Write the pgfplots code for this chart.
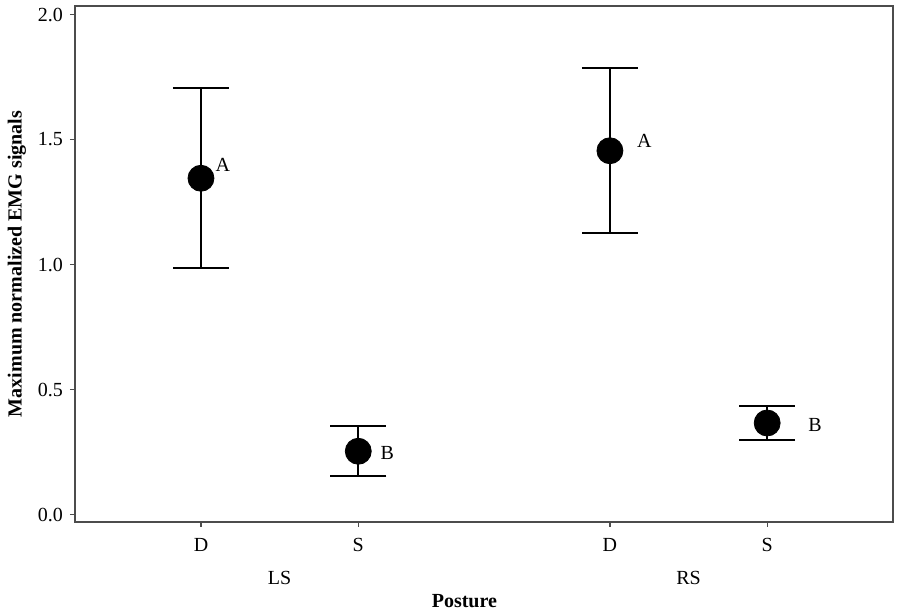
\documentclass[border=0pt]{standalone}
\usepackage{fontspec}
\setmainfont{Liberation Serif}
\usepackage{pgfplots}
\pgfplotsset{compat=1.18}
\begin{document}
\begin{tikzpicture}
\begin{axis}[
  scale only axis=true,
  width=409pt, height=258pt,
  xmin=0.199, xmax=5.40,
  ymin=-0.03, ymax=2.034,
  axis line style={black!70, line width=0.8pt},
  xtick={1,2,3.6,4.6},
  xticklabels={D,S,D,S},
  ytick={0,0.5,1,1.5,2},
  yticklabel style={/pgf/number format/fixed,/pgf/number format/fixed zerofill,/pgf/number format/precision=1},
  /pgf/number format/assume math mode=true,
  tick align=outside,
  major tick length=2.5pt,
  tick style={black!70, line width=0.6pt},
  xtick pos=bottom, ytick pos=left,
  xticklabel style={yshift=-2pt},
  clip=false,
  font=\fontsize{10}{12}\selectfont,
]
\addplot[only marks, mark=*, mark size=6.5pt, black,
  error bars/.cd, y dir=both, y explicit,
  error bar style={line width=0.9pt, black},
  error mark options={rotate=90, mark size=14pt, line width=0.9pt, black}]
  coordinates {
    (1,1.345) +- (0,0.360)
    (2,0.253) +- (0,0.100)
    (3.6,1.455) +- (0,0.330)
    (4.6,0.366) +- (0,0.067)
  };
\node[anchor=west, inner sep=0pt] at (axis cs:1.09,1.40) {A};
\node[anchor=west, inner sep=0pt] at (axis cs:3.77,1.495) {A};
\node[anchor=west, inner sep=0pt] at (axis cs:2.14,0.245) {B};
\node[anchor=west, inner sep=0pt] at (axis cs:4.86,0.36) {B};
\node at ([yshift=-28pt]axis cs:1.5,-0.03) {LS};
\node at ([yshift=-28pt]axis cs:4.1,-0.03) {RS};
\node at ([yshift=-39.5pt]axis cs:2.675,-0.03) {\textbf{Posture}};
\node[rotate=90] at ([xshift=-29pt]rel axis cs:0,0.5) {\textbf{Maximum normalized EMG signals}};
\path ([xshift=-37.5pt,yshift=-45pt]rel axis cs:0,0) rectangle ([xshift=3.5pt,yshift=3pt]rel axis cs:1,1);
\end{axis}
\end{tikzpicture}
\end{document}
